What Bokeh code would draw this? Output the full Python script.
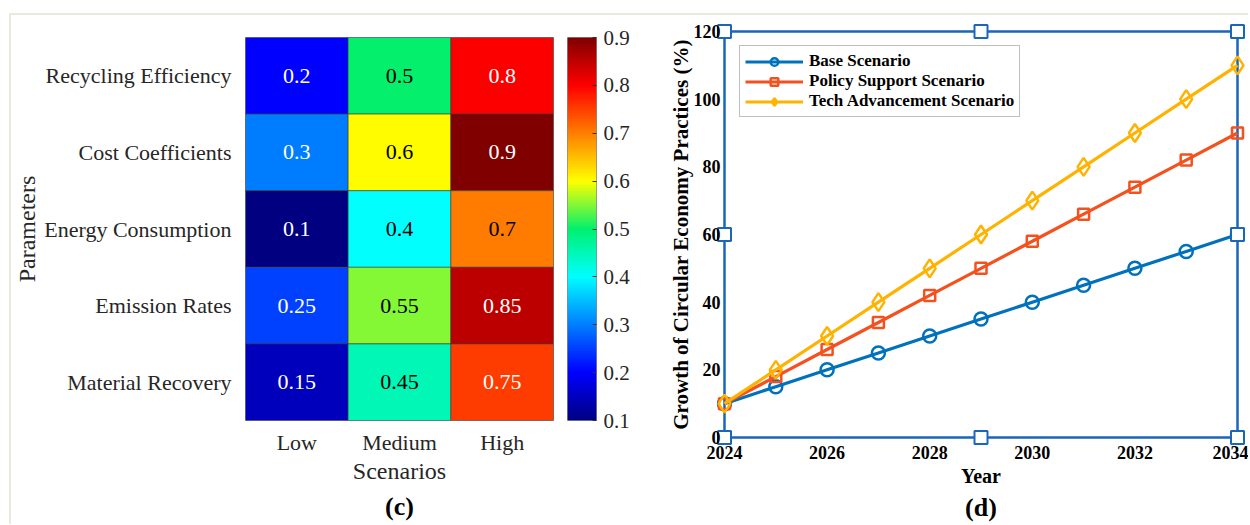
import numpy as np
from bokeh.plotting import figure
from bokeh.models import (ColumnDataSource, LinearColorMapper, Range1d, Title,
                          FixedTicker, Legend, LegendItem)
from bokeh.layouts import row
from bokeh.transform import transform
from bokeh.core.properties import value
from bokeh.embed import file_html
from bokeh.resources import INLINE

# ---------------- data ----------------
scenarios = ["Low", "Medium", "High"]
parameters = ["Recycling Efficiency", "Cost Coefficients", "Energy Consumption",
              "Emission Rates", "Material Recovery"]
heat_values = [
    [0.2, 0.5, 0.8],
    [0.3, 0.6, 0.9],
    [0.1, 0.4, 0.7],
    [0.25, 0.55, 0.85],
    [0.15, 0.45, 0.75],
]
color_low, color_high = 0.1, 0.9
color_ticks = [0.1, 0.2, 0.3, 0.4, 0.5, 0.6, 0.7, 0.8, 0.9]

years = [2024, 2025, 2026, 2027, 2028, 2029, 2030, 2031, 2032, 2033, 2034]
base = [10, 15, 20, 25, 30, 35, 40, 45, 50, 55, 60]
policy = [10, 18, 26, 34, 42, 50, 58, 66, 74, 82, 90]
tech = [10, 20, 30, 40, 50, 60, 70, 80, 90, 100, 110]
series_names = ["Base Scenario", "Policy Support Scenario", "Tech Advancement Scenario"]
year_ticks = [2024, 2026, 2028, 2030, 2032, 2034]
growth_ticks = [0, 20, 40, 60, 80, 100, 120]
x_lim = [2024, 2034]
y_lim = [0, 120]

# ---------------- styles ----------------
SERIF = "Liberation Serif"
TXT = "#262626"
H = 524
anchors = [(0.0, (0, 0, 128)), (0.125, (0, 0, 255)), (0.375, (0, 255, 255)),
           (0.5, (0, 240, 110)), (0.625, (255, 255, 0)), (0.875, (255, 0, 0)),
           (1.0, (128, 0, 0))]


def cmap(t):
    for (t0, c0), (t1, c1) in zip(anchors[:-1], anchors[1:]):
        if t <= t1:
            f = (t - t0) / (t1 - t0)
            return tuple(int(round(a + (b - a) * f)) for a, b in zip(c0, c1))
    return anchors[-1][1]


N = 256
rgb = [cmap(i / (N - 1)) for i in range(N)]
palette = ["#%02x%02x%02x" % c for c in rgb]
mapper = LinearColorMapper(palette=palette, low=color_low, high=color_high)

# ---------------- heatmap ----------------
xs, ys, vs, tcs, labs = [], [], [], [], []
for r, prm in enumerate(parameters):
    for c, sc in enumerate(scenarios):
        v = heat_values[r][c]
        idx = int(round((v - color_low) / (color_high - color_low) * (N - 1)))
        R, G, B = rgb[idx]
        lum = 0.299 * R + 0.587 * G + 0.114 * B
        xs.append(sc); ys.append(prm); vs.append(v)
        tcs.append("white" if lum < 130 else "black")
        labs.append(f"{v:g}")
src = ColumnDataSource(dict(x=xs, y=ys, v=vs, tc=tcs, lab=labs))

HM_TOP = 37
HM_FRAME_H = 383
hm = figure(width=560, height=H, x_range=scenarios, y_range=list(reversed(parameters)),
            output_backend="svg", toolbar_location=None, frame_align=False,
            min_border_left=245, min_border_right=7, min_border_top=HM_TOP,
            min_border_bottom=H - HM_TOP - HM_FRAME_H)
hm.rect(x="x", y="y", width=1, height=1, source=src, fill_color=transform("v", mapper),
        line_color="#3a3a3a", line_alpha=0.6, line_width=1)
hm.text(x="x", y="y", text="lab", text_color="tc", source=src, text_align="center",
        text_baseline="middle", text_font=value(SERIF), text_font_size="22px")
hm.grid.visible = False
hm.outline_line_color = "#8a8a8a"
hm.border_fill_alpha = 0
for ax in (hm.xaxis, hm.yaxis):
    ax.axis_line_color = None
    ax.major_tick_line_color = None
    ax.minor_tick_line_color = None
    ax.major_label_text_font = SERIF
    ax.major_label_text_font_size = "22px"
    ax.major_label_text_color = TXT
    ax.axis_label_text_font = SERIF
    ax.axis_label_text_font_size = "24px"
    ax.axis_label_text_font_style = "normal"
    ax.axis_label_text_color = TXT
hm.xaxis.axis_label = "Scenarios"
hm.yaxis.axis_label = "Parameters"
hm.xaxis.major_label_standoff = 3
hm.xaxis.axis_label_standoff = 0
hm.yaxis.major_label_standoff = 8
hm.yaxis.axis_label_standoff = 1
hm.add_layout(Title(text="(c)", align="center", offset=-71, standoff=6,
                    text_font=SERIF, text_font_size="26px", text_font_style="bold",
                    text_color="black"), "below")

# ---------------- colorbar ----------------
cb = figure(width=95, height=H, x_range=Range1d(0, 1), y_range=Range1d(color_low, color_high),
            y_axis_location="right", output_backend="svg", toolbar_location=None,
            frame_align=False,
            min_border_left=7, min_border_right=59, min_border_top=HM_TOP,
            min_border_bottom=H - HM_TOP - HM_FRAME_H)
grad = np.linspace(color_low, color_high, N).reshape(-1, 1)
cb.image(image=[grad], x=0, y=color_low, dw=1, dh=color_high - color_low, color_mapper=mapper)
cb.xaxis.visible = False
cb.grid.visible = False
cb.outline_line_color = "#8a8a8a"
cb.border_fill_alpha = 0
cb.yaxis.ticker = FixedTicker(ticks=color_ticks)
cb.yaxis.axis_line_color = None
cb.yaxis.major_tick_in = 4
cb.yaxis.major_tick_out = 0
cb.yaxis.major_tick_line_color = "#333333"
cb.yaxis.minor_tick_line_color = None
cb.yaxis.major_label_standoff = 7
cb.yaxis.major_label_text_font = SERIF
cb.yaxis.major_label_text_font_size = "21px"
cb.yaxis.major_label_text_color = TXT

# ---------------- line chart ----------------
BOX_W, BOX_H = 513, 406          # px size of the axes box
PL, PR, PT, PB = 8, 8, 9, 9      # px padding around the box inside the frame
LC_TOP = 22
xpp = (x_lim[1] - x_lim[0]) / BOX_W
ypp = (y_lim[1] - y_lim[0]) / BOX_H
lc = figure(width=593, height=H, output_backend="svg", toolbar_location=None,
            frame_align=False,
            x_range=Range1d(x_lim[0] - PL * xpp, x_lim[1] + PR * xpp),
            y_range=Range1d(y_lim[0] - PB * ypp, y_lim[1] + PT * ypp),
            min_border_left=61, min_border_right=3, min_border_top=LC_TOP,
            min_border_bottom=H - LC_TOP - (BOX_H + PT + PB))
lc.grid.visible = False
lc.outline_line_color = None
lc.border_fill_alpha = 0
BLUE_BOX = "#1a66b8"
lc.line(x=[x_lim[0], x_lim[1], x_lim[1], x_lim[0], x_lim[0]],
        y=[y_lim[0], y_lim[0], y_lim[1], y_lim[1], y_lim[0]],
        line_color=BLUE_BOX, line_width=2.5)

colors = ["#0072BD", "#F4511E", "#FFB300"]
markers = ["circle", "square", "diamond"]
msizes = [13, 11, 18]
items = []
for name, ys_, col, mk, ms in zip(series_names, [base, policy, tech], colors, markers, msizes):
    lr = lc.line(years, ys_, line_color=col, line_width=3.2)
    sr = lc.scatter(years, ys_, marker=mk, size=ms, line_color=col, line_width=2.5,
                    fill_alpha=0)
    items.append(LegendItem(label=name, renderers=[lr, sr]))

xm = (x_lim[0] + x_lim[1]) / 2
ym = (y_lim[0] + y_lim[1]) / 2
lc.scatter(x=[x_lim[0], xm, x_lim[1], x_lim[0], x_lim[1], x_lim[0], xm, x_lim[1]],
           y=[y_lim[0], y_lim[0], y_lim[0], ym, ym, y_lim[1], y_lim[1], y_lim[1]],
           marker="square", size=13, fill_color="white", line_color=BLUE_BOX, line_width=2)

legend = Legend(items=items, location="top_left", margin=23, padding=5, spacing=0,
                label_height=19, glyph_height=19, glyph_width=58, label_standoff=6,
                label_text_font=SERIF, label_text_font_size="17px",
                label_text_font_style="bold", label_text_color="black",
                border_line_color="#7f7f7f", border_line_width=1.5,
                background_fill_color="white", background_fill_alpha=1)
lc.add_layout(legend)

for ax in (lc.xaxis, lc.yaxis):
    ax.axis_line_color = None
    ax.major_tick_line_color = None
    ax.minor_tick_line_color = None
    ax.major_label_text_font = SERIF
    ax.major_label_text_font_size = "18px"
    ax.major_label_text_font_style = "bold"
    ax.major_label_text_color = "black"
    ax.axis_label_text_font = SERIF
    ax.axis_label_text_font_style = "bold"
    ax.axis_label_text_color = "black"
lc.xaxis.ticker = FixedTicker(ticks=year_ticks)
lc.yaxis.ticker = FixedTicker(ticks=growth_ticks)
lc.xaxis.axis_label = "Year"
lc.yaxis.axis_label = "Growth of Circular Economy Practices (%)"
lc.xaxis.axis_label_text_font_size = "20px"
lc.yaxis.axis_label_text_font_size = "21px"
lc.xaxis.major_label_standoff = -7
lc.xaxis.axis_label_standoff = 3
lc.yaxis.major_label_standoff = -10
lc.yaxis.axis_label_standoff = -2
lc.add_layout(Title(text="(d)", align="center", offset=-15, standoff=3,
                    text_font=SERIF, text_font_size="26px", text_font_style="bold",
                    text_color="black"), "below")

BEIGE = "#ebe8de"
layout = row(hm, cb, lc, styles={
    "background-image": f"linear-gradient({BEIGE}, {BEIGE}), linear-gradient({BEIGE}, {BEIGE})",
    "background-size": "1240px 2px, 2px 512px",
    "background-position": "10px 13px, 9px 13px",
    "background-repeat": "no-repeat",
})
open("out.html", "w").write(file_html(layout, INLINE))
